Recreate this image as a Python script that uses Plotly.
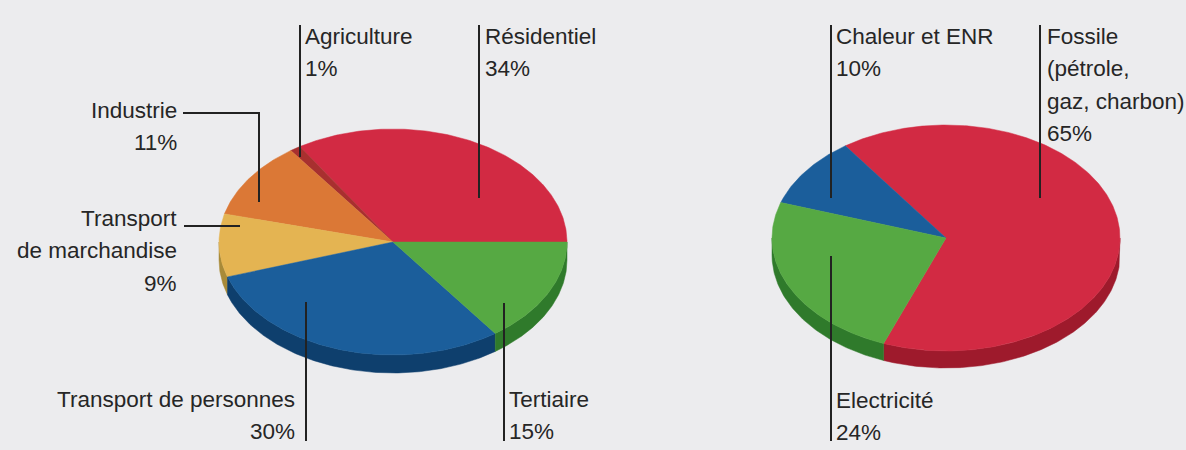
import numpy as np
import plotly.graph_objects as go

# ---------------- data ----------------
sector_labels = ["Résidentiel", "Agriculture", "Industrie",
                 "Transport|de marchandise", "Transport de personnes", "Tertiaire"]
sector_values = [34, 1, 11, 9, 30, 15]

source_labels = ["Fossile|(pétrole,|gaz, charbon)", "Chaleur et ENR", "Electricité"]
source_values = [65, 10, 24]

# ---------------- styles ----------------
BG = "#ececee"
TXT = "#262626"
FONT = "Liberation Sans, Arial, sans-serif"
FS = 22.5
LINE_H = 32.5

sector_top = ["#d22a43", "#a8302f", "#db7836", "#e4b452", "#1b5e9b", "#56a943"]
sector_side = ["#9e1a2c", "#7a2020", "#a5552a", "#a88a38", "#0e3f6d", "#2f7a2b"]
source_top = ["#d22a43", "#1b5e9b", "#56a943"]
source_side = ["#9e1a2c", "#0e3f6d", "#2f7a2b"]

PIES = [
    dict(values=sector_values, top=sector_top, side=sector_side,
         cx=393, cy=242, rx=174, ry=113, depth=18, start=0.0),
    dict(values=source_values, top=source_top, side=source_side,
         cx=946, cy=238, rx=174, ry=113, depth=17, start=-111.0),
]


def arc(p, a0, a1, dy=0.0, n=None):
    if n is None:
        n = max(4, int(abs(a1 - a0) * 1.5))
    t = np.radians(np.linspace(a0, a1, n))
    return p["cx"] + p["rx"] * np.cos(t), p["cy"] - p["ry"] * np.sin(t) + dy


fig = go.Figure()

for p in PIES:
    total = float(sum(p["values"]))
    bounds = []
    a = p["start"]
    for v in p["values"]:
        b = a + v / total * 360.0
        bounds.append((a, b))
        a = b
    # sides (front half only: 180..360 deg)
    for (a0, a1), col in zip(bounds, p["side"]):
        for k in (-1, 0, 1):
            lo, hi = 180 + 360 * k, 360 + 360 * k
            s, e = max(a0, lo), min(a1, hi)
            if e > s:
                xt, yt = arc(p, s, e)
                xb, yb = arc(p, e, s, dy=p["depth"])
                fig.add_trace(go.Scatter(
                    x=np.concatenate([xt, xb, xt[:1]]),
                    y=np.concatenate([yt, yb, yt[:1]]),
                    mode="lines", fill="toself", fillcolor=col,
                    line=dict(color=col, width=0.5), hoverinfo="skip",
                    showlegend=False))
    # top faces
    for (a0, a1), col in zip(bounds, p["top"]):
        xa, ya = arc(p, a0, a1)
        fig.add_trace(go.Scatter(
            x=np.concatenate([[p["cx"]], xa, [p["cx"]]]),
            y=np.concatenate([[p["cy"]], ya, [p["cy"]]]),
            mode="lines", fill="toself", fillcolor=col,
            line=dict(color=col, width=0.5), hoverinfo="skip",
            showlegend=False))

# ---------------- labels & leader lines ----------------
def lines_of(label, value):
    return label.split("|") + [f"{value}%"]

# (label, value, x, first baseline, xanchor, leader polyline)
labels = [
    (sector_labels[0], sector_values[0], 483, 44, "left",
     [(479, 25), (479, 198)]),
    (sector_labels[1], sector_values[1], 303, 44, "left",
     [(300, 25), (300, 157)]),
    (sector_labels[2], sector_values[2], 179, 118, "right",
     [(183, 113), (259, 113), (259, 202)]),
    (sector_labels[3], sector_values[3], 179, 226, "right",
     [(184, 226), (240, 226)]),
    (sector_labels[4], sector_values[4], 297, 407, "right",
     [(306, 302), (306, 441)]),
    (sector_labels[5], sector_values[5], 507, 407, "left",
     [(504, 303), (504, 441)]),
    (source_labels[1], source_values[1], 834, 44, "left",
     [(831, 25), (831, 198)]),
    (source_labels[0], source_values[0], 1045, 44, "left",
     [(1040, 25), (1040, 198)]),
    (source_labels[2], source_values[2], 834, 408, "left",
     [(831, 256), (831, 441)]),
]

shapes = []
annotations = []
for label, value, x, base, xa, pts in labels:
    for i, line in enumerate(lines_of(label, value)):
        annotations.append(dict(
            x=x, y=base + i * LINE_H - 0.35 * FS, xref="x", yref="y",
            text=line, showarrow=False,
            xanchor=xa, yanchor="middle", align=xa,
            font=dict(family=FONT, size=FS, color=TXT)))
    path = "M " + " L ".join(f"{px},{py}" for px, py in pts)
    shapes.append(dict(type="path", path=path, xref="x", yref="y",
                       line=dict(color="#222222", width=2)))

fig.update_layout(
    width=1186, height=450,
    margin=dict(l=0, r=0, t=0, b=0),
    paper_bgcolor=BG, plot_bgcolor=BG,
    xaxis=dict(range=[0, 1186], visible=False, fixedrange=True),
    yaxis=dict(range=[450, 0], visible=False, fixedrange=True),
    shapes=shapes, annotations=annotations,
    showlegend=False,
)

fig.write_html("out.html", config=dict(displayModeBar=False),
               post_script="document.body.style.margin='0';document.body.style.background='#ececee';")
